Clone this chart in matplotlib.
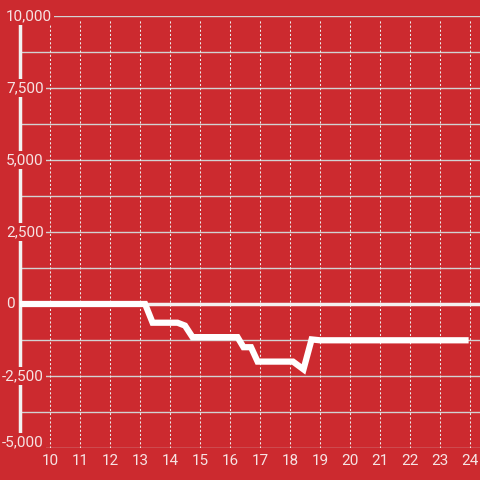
import matplotlib
matplotlib.use('Agg')
import matplotlib.pyplot as plt
import matplotlib.transforms as mtransforms

# values
hours = [9, 13.17, 13.42, 14.25, 14.5, 14.75, 16.25, 16.45, 16.7, 16.92,
         18.1, 18.45, 18.72, 19.0, 23.85]
balance = [0, 0, -650, -650, -750, -1150, -1150, -1500, -1500, -2000,
           -2000, -2270, -1230, -1260, -1260]
x_ticks = list(range(10, 25))
y_ticks = [-5000, -2500, 0, 2500, 5000, 7500, 10000]
y_grid = [-5000, -3750, -2500, -1250, 1250, 2500, 3750, 5000, 6250, 7500, 8750, 10000]

bg = '#cc2a2f'
txt = '#f6e3e3'
plt.rcParams['font.family'] = ['Roboto', 'DejaVu Sans']

fig = plt.figure(figsize=(4.8, 4.8), dpi=100, facecolor=bg)
ax = fig.add_axes([20 / 480, 32 / 480, 460 / 480, 432 / 480])
ax.set_facecolor(bg)
ax.set_xlim(9, 9 + 460 / 30)
ax.set_ylim(-5000, 10000)

for s in ['top', 'right', 'bottom']:
    ax.spines[s].set_visible(False)
ax.spines['left'].set_color('#f2f2f2')
ax.spines['left'].set_linewidth(2.5)
ax.spines['left'].set_bounds(-5000, 9700)

# grid
for v in y_grid:
    ax.axhline(v, color='#d2d2d2', lw=1, zorder=1)
for v in x_ticks:
    ax.plot([v, v], [-5000, 9850], color='#ececec', lw=0.75,
            linestyle=(0, (2, 2)), zorder=1)
ax.axhline(0, color='#f4f0f0', lw=2.5, zorder=2)

ax.plot(hours, balance, color='white', lw=4.5, solid_joinstyle='miter', zorder=4)

ax.set_xticks([])
ax.set_yticks([])

# y labels drawn over the axis on a red box
trans = mtransforms.blended_transform_factory(fig.transFigure, ax.transData)
for v in y_ticks:
    yy = v + 200 if v == -5000 else v
    xx = 2 / 480 if v < 0 else 6 / 480
    ax.text(xx, yy, f'{v:,}', transform=trans, ha='left', va='center',
            color=txt, fontsize=11, zorder=5, clip_on=False,
            bbox=dict(facecolor=bg, edgecolor='none', pad=1.5))

xtrans = ax.transData + mtransforms.ScaledTranslation(0, -13 / 100, fig.dpi_scale_trans)
for v in x_ticks:
    ax.text(v, -5000, str(v), transform=xtrans, ha='center', va='center',
            color=txt, fontsize=11, clip_on=False)

fig.savefig('out.png', dpi=100, facecolor=bg)
